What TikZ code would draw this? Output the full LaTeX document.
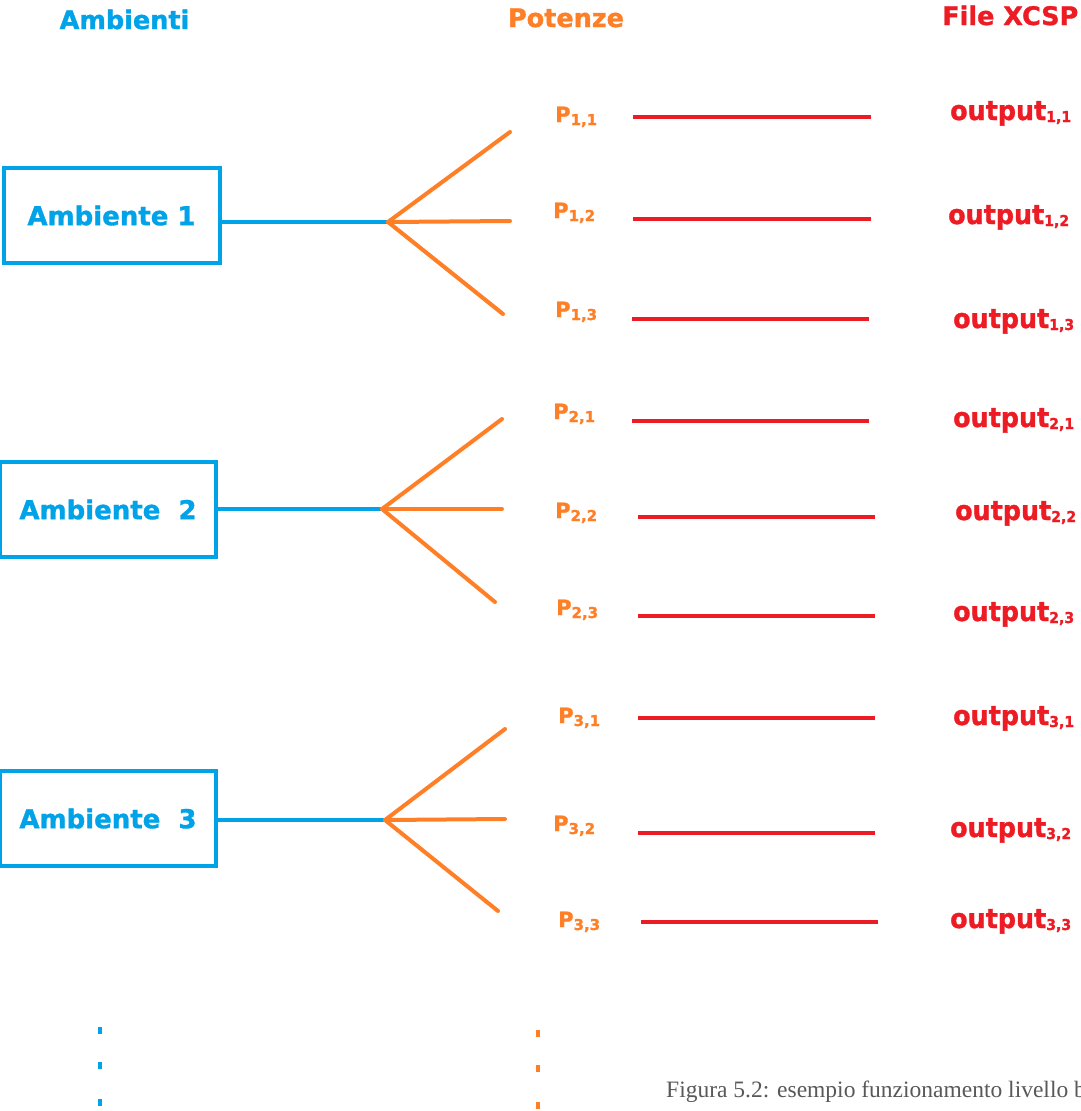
\documentclass[tikz,border=0pt]{standalone}
\usepackage{fontspec}
\usepackage{graphicx}
\setmainfont{DejaVu Sans}[BoldFeatures={FakeBold=1.2}]
\newfontfamily\captionserif{Liberation Serif}
\definecolor{envblue}{RGB}{0,162,232}
\definecolor{poworange}{RGB}{255,127,39}
\definecolor{outred}{RGB}{237,28,36}
\definecolor{capgray}{RGB}{89,89,89}
\newcommand{\psub}[1]{\raisebox{-3pt}{\fontsize{15}{15}\selectfont #1}}
\newcommand{\osub}[1]{\raisebox{-2pt}{\fontsize{15}{15}\selectfont #1}}
\newcommand{\boxtext}[1]{\raisebox{-5.5pt}{#1}}
\begin{document}
\begin{tikzpicture}[x=1pt,y=-1pt,
  head/.style={inner sep=0pt, anchor=base, font=\bfseries\fontsize{25.5}{30}\selectfont},
  envbox/.style={draw=envblue, line width=4pt, text=envblue, inner sep=0pt,
    minimum width=216pt, minimum height=95pt, font=\bfseries\fontsize{26}{30}\selectfont},
  envlink/.style={draw=envblue, line width=4pt},
  fan/.style={draw=poworange, line width=4pt, line cap=round},
  plabel/.style={inner sep=0pt, anchor=base west, text=poworange, font=\bfseries\fontsize{21}{26}\selectfont},
  olabel/.style={inner sep=0pt, anchor=base west, text=outred, font=\bfseries\fontsize{27}{30}\selectfont},
  outline/.style={draw=outred, line width=4pt},
  blueDot/.style={fill=envblue, minimum width=4pt, minimum height=7pt, inner sep=0pt},
  orangeDot/.style={fill=poworange, minimum width=4pt, minimum height=7pt, inner sep=0pt}]
\useasboundingbox (0,0) rectangle (1081,1111);
\clip (0,0) rectangle (1081,1111);
\fill[white] (0,0) rectangle (1081,1111);

% column headings
\node[head, text=envblue] (hAmb) at (124.5,29) {Ambienti};
\node[head, text=poworange] (hPot) at (566,27) {Potenze};
\node[head, text=outred, anchor=base west] (hXcsp) at (942,25) {File XCSP};

% environments
\node[envbox] (amb1) at (111.5,215.5) {\boxtext{Ambiente 1}};
\node[envbox] (amb2) at (108,509.5) {\boxtext{Ambiente\ \ 2}};
\node[envbox] (amb3) at (108,818.5) {\boxtext{Ambiente\ \ 3}};

% branching hubs and branch ends
\coordinate (hub1) at (388,222);
\coordinate (hub2) at (382,509);
\coordinate (hub3) at (385,820);
\coordinate (b11) at (510,132);
\coordinate (b12) at (510,221);
\coordinate (b13) at (503,314);
\coordinate (b21) at (502,419);
\coordinate (b22) at (502,509);
\coordinate (b23) at (495,602);
\coordinate (b31) at (505,729);
\coordinate (b32) at (505,819);
\coordinate (b33) at (498,911);

\draw[envlink] (amb1.east |- hub1) -- (hub1);
\draw[envlink] (amb2.east |- hub2) -- (hub2);
\draw[envlink] (amb3.east |- hub3) -- (hub3);
\foreach \i in {1,2,3}{
  \foreach \j in {1,2,3}{
    \draw[fan] (hub\i) -- (b\i\j);
  }
}

% power labels
\node[plabel] (p11) at (555,122) {P\psub{1,1}};
\node[plabel] (p12) at (553,218) {P\psub{1,2}};
\node[plabel] (p13) at (555,317) {P\psub{1,3}};
\node[plabel] (p21) at (553,419) {P\psub{2,1}};
\node[plabel] (p22) at (555,518) {P\psub{2,2}};
\node[plabel] (p23) at (556,615) {P\psub{2,3}};
\node[plabel] (p31) at (558,723) {P\psub{3,1}};
\node[plabel] (p32) at (553,831) {P\psub{3,2}};
\node[plabel] (p33) at (558,927) {P\psub{3,3}};

% output file labels
\node[olabel] (o11) at (950,120) {\scalebox{0.94}[1]{output\osub{1,1}}};
\node[olabel] (o12) at (948,224) {\scalebox{0.94}[1]{output\osub{1,2}}};
\node[olabel] (o13) at (953,328) {\scalebox{0.94}[1]{output\osub{1,3}}};
\node[olabel] (o21) at (953,427) {\scalebox{0.94}[1]{output\osub{2,1}}};
\node[olabel] (o22) at (955,520) {\scalebox{0.94}[1]{output\osub{2,2}}};
\node[olabel] (o23) at (953,621) {\scalebox{0.94}[1]{output\osub{2,3}}};
\node[olabel] (o31) at (953,725) {\scalebox{0.94}[1]{output\osub{3,1}}};
\node[olabel] (o32) at (950,837) {\scalebox{0.94}[1]{output\osub{3,2}}};
\node[olabel] (o33) at (950,928) {\scalebox{0.94}[1]{output\osub{3,3}}};

% connections from powers to output files
\coordinate (s11) at (633,117); \coordinate (e11) at (871,117);
\coordinate (s12) at (633,219); \coordinate (e12) at (871,219);
\coordinate (s13) at (632,319); \coordinate (e13) at (869,319);
\coordinate (s21) at (632,421); \coordinate (e21) at (869,421);
\coordinate (s22) at (638,517); \coordinate (e22) at (875,517);
\coordinate (s23) at (638,616); \coordinate (e23) at (875,616);
\coordinate (s31) at (638,718); \coordinate (e31) at (875,718);
\coordinate (s32) at (638,833); \coordinate (e32) at (875,833);
\coordinate (s33) at (641,922); \coordinate (e33) at (878,922);
\foreach \k in {11,12,13,21,22,23,31,32,33}{
  \draw[outline] (s\k) -- (e\k);
}

% continuation dots
\node[blueDot] (bd1) at (100,1030) {};
\node[blueDot] (bd2) at (100,1065) {};
\node[blueDot] (bd3) at (100,1102) {};
\node[orangeDot] (od1) at (538,1033) {};
\node[orangeDot] (od2) at (538,1068) {};
\node[orangeDot] (od3) at (538,1105) {};

% caption
\node[inner sep=0pt, anchor=base west, text=capgray, font=\captionserif\fontsize{23.5}{28}\selectfont] (cap) at (666,1097)
  {Figura 5.2: esempio funzionamento livello b};
\end{tikzpicture}
\end{document}
